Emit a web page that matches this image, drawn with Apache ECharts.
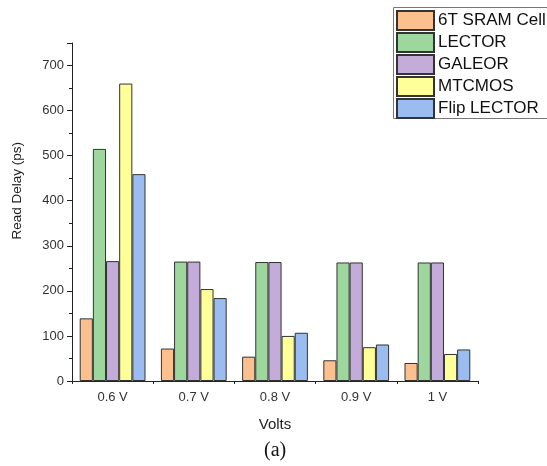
<!DOCTYPE html>
<html>
<head>
<meta charset="utf-8">
<script src="https://cdn.jsdelivr.net/npm/echarts@6/dist/echarts.min.js"></script>
<style>
  html, body { margin: 0; padding: 0; background: #fff; }
  #chart { width: 547px; height: 466px; }
</style>
</head>
<body>
<div id="chart"></div>
<script>
// Supply voltages on the x axis
const categories = ['0.6 V', '0.7 V', '0.8 V', '0.9 V', '1 V'];

// Read delay (ps) per cell design
const sramCell    = [139, 72, 54, 46, 40];
const lector      = [515, 265, 264, 263, 263];
const galeor      = [266, 265, 264, 263, 263];
const mtcmos      = [660, 204, 100, 75, 60];
const flipLector  = [459, 184, 107, 81, 70];

const seriesNames = ['6T SRAM Cell', 'LECTOR', 'GALEOR', 'MTCMOS', 'Flip LECTOR'];
const seriesData  = [sramCell, lector, galeor, mtcmos, flipLector];
const colors      = ['#FBC08E', '#9DD79D', '#C3ACD9', '#FFFF99', '#9BBCF1'];

const font = 'Liberation Sans, Arial, sans-serif';
const chart = echarts.init(document.getElementById('chart'));

chart.setOption({
  animation: false,
  backgroundColor: '#fff',
  grid: { left: 72, right: 69, top: 43, bottom: 85, containLabel: false },
  legend: {
    orient: 'vertical',
    left: 393,
    top: 7,
    itemWidth: 37,
    itemHeight: 19,
    itemGap: 1,
    padding: [3, 0, 2, 3],
    icon: 'rect',
    textStyle: { fontFamily: font, fontSize: 17, lineHeight: 19, color: '#111', padding: [0, 0, 0, -1] },
    data: seriesNames
  },
  xAxis: [
    {
      type: 'category',
      data: categories,
      name: 'Volts',
      nameLocation: 'middle',
      nameGap: 36,
      nameTextStyle: { fontFamily: font, fontSize: 15, color: '#222' },
      axisLine: { lineStyle: { color: '#222', width: 1 } },
      axisTick: { alignWithLabel: true, length: 5, lineStyle: { color: '#222' } },
      axisLabel: { fontFamily: font, fontSize: 13, color: '#333', margin: 10 }
    },
    {
      // boundary ticks between the voltage groups
      type: 'category',
      data: categories,
      position: 'bottom',
      axisLine: { show: false },
      axisTick: { show: true, length: 3, lineStyle: { color: '#222' } },
      axisLabel: { show: false }
    }
  ],
  yAxis: {
    type: 'value',
    min: 0,
    max: 750,
    interval: 100,
    axisLine: { show: true, lineStyle: { color: '#222', width: 1 } },
    axisTick: { show: true, length: 5, lineStyle: { color: '#222' } },
    minorTick: { show: true, splitNumber: 2, length: 3, lineStyle: { color: '#222' } },
    splitLine: { show: false },
    axisLabel: { fontFamily: font, fontSize: 13, color: '#333', margin: 8, showMaxLabel: false }
  },
  graphic: [
    {
      // legend frame, running past the right edge of the canvas
      type: 'rect',
      z: 0,
      shape: { x: 393.5, y: 7.5, width: 180, height: 111 },
      style: { fill: 'none', stroke: '#777', lineWidth: 1 }
    },
    {
      type: 'text',
      left: 10,
      top: 142,
      rotation: Math.PI / 2,
      style: { text: 'Read Delay (ps)', font: '13.5px ' + font, fill: '#222' }
    },
    {
      type: 'text',
      left: 264,
      top: 441,
      style: { text: '(a)', font: '20px Liberation Serif, Times New Roman, serif', fill: '#111' }
    }
  ],
  series: seriesNames.map((name, i) => ({
    name: name,
    type: 'bar',
    xAxisIndex: 0,
    data: seriesData[i],
    barGap: '0%',
    barCategoryGap: '19%',
    itemStyle: { color: colors[i], borderColor: '#333', borderWidth: 1 }
  }))
});
</script>
</body>
</html>
